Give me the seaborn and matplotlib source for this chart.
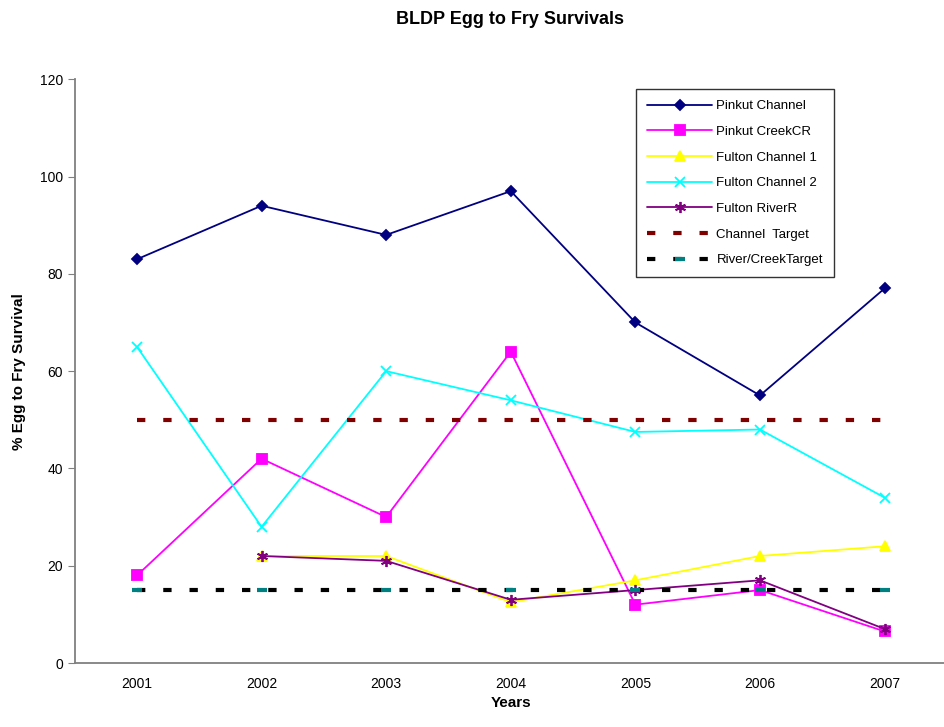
import numpy as np
import pandas as pd
import seaborn as sns
import matplotlib.pyplot as plt

years = ["2001", "2002", "2003", "2004", "2005", "2006", "2007"]
pinkut_channel = [83, 94, 88, 97, 70, 55, 77]
pinkut_creek = [18, 42, 30, 64, 12, 15, 6.5]
fulton_ch1 = [np.nan, 22, 22, 12.5, 17, 22, 24]
fulton_ch2 = [65, 28, 60, 54, 47.5, 48, 34]
fulton_river = [np.nan, 22, 21, 13, 15, 17, 7]
channel_target = [50] * 7
river_target = [15] * 7

sns.set_style("white")
plt.rcParams["font.family"] = ["Liberation Sans", "DejaVu Sans"]
plt.rcParams["text.color"] = "black"
plt.rcParams["axes.labelcolor"] = "black"
plt.rcParams["xtick.color"] = "black"
plt.rcParams["ytick.color"] = "black"

fig = plt.figure(figsize=(9.45, 7.27), dpi=100)
ax = fig.add_axes([0.079, 0.088, 0.923, 0.803])

x = np.arange(len(years))

series = [
    ("Pinkut Channel", pinkut_channel, "#000080", "D", 5.5),
    ("Pinkut CreekCR", pinkut_creek, "#FF00FF", "s", 7),
    ("Fulton Channel 1", fulton_ch1, "#FFFF00", "^", 7),
    ("Fulton Channel 2", fulton_ch2, "#00FFFF", "x", 7),
    ("Fulton RiverR", fulton_river, "#800080", (6, 2, 0), 8),
]

for name, vals, color, mk, ms in series:
    df = pd.DataFrame({"x": x, "y": vals}).dropna()
    sns.lineplot(data=df, x="x", y="y", ax=ax, color=color, marker=mk,
                 markersize=ms, markeredgecolor=color, markerfacecolor=color,
                 markeredgewidth=1.3, linewidth=1.3, label=name)

sns.lineplot(x=x, y=channel_target, ax=ax, color="#800000", linewidth=3,
             dashes=False, label="Channel  Target")
ax.lines[-1].set_dashes([2, 4.3])
sns.lineplot(x=x, y=river_target, ax=ax, color="black", linewidth=3,
             marker="_", markersize=7, markeredgewidth=3,
             markeredgecolor="#008080", label="River/CreekTarget")
ax.lines[-1].set_dashes([2, 4.3])

ax.set_xlim(-0.5, 6.5)
ax.set_ylim(0, 120)
ax.set_yticks(range(0, 121, 20))
ax.set_xticks(x)
ax.set_xticklabels(years)
ax.set_xticks(np.arange(0.5, 6.5, 1), minor=True)
ax.tick_params(axis="x", which="major", length=0, labelsize=10, pad=10)
ax.tick_params(axis="x", which="minor", length=5, color="#808080", direction="out")
ax.tick_params(axis="y", length=5, color="#808080", labelcolor="black",
               direction="out", labelsize=10, left=True)

for s in ["top", "right"]:
    ax.spines[s].set_visible(False)
for s in ["left", "bottom"]:
    ax.spines[s].set_color("#808080")
    ax.spines[s].set_linewidth(1.3)

ax.set_xlabel("Years", fontsize=11, fontweight="bold", labelpad=4)
ax.set_ylabel("% Egg to Fry Survival", fontsize=11, fontweight="bold", labelpad=10)
fig.suptitle("BLDP Egg to Fry Survivals", fontsize=13, fontweight="bold", x=0.54, y=0.985)

leg = ax.legend(loc="upper left", bbox_to_anchor=(0.666, 0.886),
                bbox_transform=fig.transFigure, fontsize=9.5, frameon=True,
                fancybox=False, edgecolor="black", handlelength=5.0,
                labelspacing=1.02, borderpad=0.8, handletextpad=0.3)
leg.get_frame().set_linewidth(1.0)

fig.savefig("out.png", dpi=100)
